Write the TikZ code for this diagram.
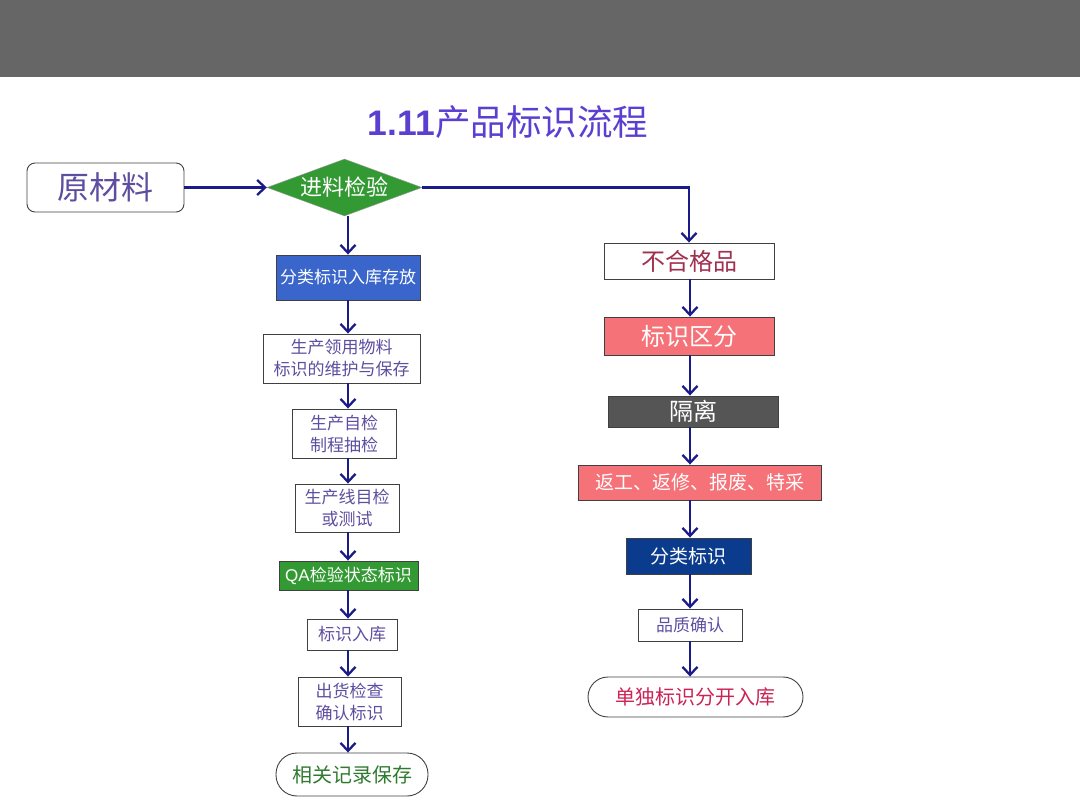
\documentclass[tikz,border=0pt]{standalone}
\usepackage{fontspec}
\newfontfamily\cjk{Noto Sans CJK SC}
\newfontfamily\lat{Liberation Sans}
\usetikzlibrary{arrows.meta,shapes.geometric}
\definecolor{gris}{HTML}{666666}
\definecolor{titulo}{HTML}{5B3FD0}
\definecolor{morado}{HTML}{5E4EA0}
\definecolor{verde}{HTML}{339933}
\definecolor{azul}{HTML}{3A66CC}
\definecolor{marino}{HTML}{0B3B8C}
\definecolor{rosa}{HTML}{F47278}
\definecolor{oscuro}{HTML}{555555}
\definecolor{flecha}{HTML}{1A1A88}
\definecolor{rojo}{HTML}{A03050}
\definecolor{carmin}{HTML}{CC2255}
\definecolor{verdet}{HTML}{2F7A2F}

\begin{document}
\begin{tikzpicture}[x=1pt,y=-1pt,
  caja/.style={draw=black!75, line width=0.9pt, inner sep=0pt, align=center, font=\cjk},
  fs/.style 2 args={font=\cjk\fontsize{#1}{#2}\selectfont},
  flujo/.style={draw=flecha, line width=2.3pt, -{Straight Barb[length=8pt,width=15pt,line width=2.3pt]}}]
\useasboundingbox (0,0) rectangle (1080,810);
\fill[gris] (0,0) rectangle (1080,77);	% banda
\node (tit) at (508,122) {\cjk\fontsize{35.5}{40}\selectfont\color{titulo}{\lat\bfseries 1.11}产品标识流程};

\coordinate (ejeA) at (348,0);
\coordinate (ejeB) at (690,0);

% izquierda
\node[caja, rounded corners=8pt, minimum width=157pt, minimum height=49pt, text=morado, fs={32}{38}] (rm) at (105.5,187.5) {原材料};
\node[diamond, fill=verde, draw=black!40, inner sep=0pt, aspect=2.72, minimum width=155pt, minimum height=57pt, text=white, fs={22}{26}] (jy) at (344.5,187.5) {进料检验};
\node[caja, fill=azul, minimum width=144pt, minimum height=45pt, text=white, fs={17}{22}] (fc) at (348,277.5) {分类标识入库存放};
\node[caja, minimum width=157pt, minimum height=49pt, text=morado, fs={17}{22}] (ly) at (341.5,358.5) {生产领用物料\\标识的维护与保存};
\node[caja, minimum width=104pt, minimum height=49pt, text=morado, fs={17}{22}] (zj) at (344,433.5) {生产自检\\制程抽检};
\node[caja, minimum width=104pt, minimum height=48pt, text=morado, fs={17}{22}] (mj) at (347,508) {生产线目检\\或测试};
\node[caja, fill=verde, minimum width=139pt, minimum height=29pt, text=white, fs={17}{22}] (qa) at (348.5,575.5) {{\lat QA}检验状态标识};
\node[caja, minimum width=90pt, minimum height=31pt, text=morado, fs={17}{22}] (rk) at (352,634.5) {标识入库};
\node[caja, minimum width=103pt, minimum height=49pt, text=morado, fs={17}{22}] (ch) at (349.5,701.5) {出货检查\\确认标识};
\node[caja, rounded corners=21pt, minimum width=152pt, minimum height=43pt, text=verdet, fs={20}{24}] (jl) at (352,774.5) {相关记录保存};

% derecha
\node[caja, minimum width=170pt, minimum height=36pt, text=rojo, fs={24}{28}] (bh) at (689,261) {不合格品};
\node[caja, fill=rosa, minimum width=170pt, minimum height=38pt, text=white, fs={24}{28}] (qf) at (689,336) {标识区分};
\node[caja, fill=oscuro, minimum width=170pt, minimum height=31pt, text=white, fs={24}{28}] (gl) at (693,411.5) {隔离};
\node[caja, fill=rosa, minimum width=243pt, minimum height=35pt, text=white, fs={19}{23}] (fg) at (699.5,482.5) {返工、返修、报废、特采};
\node[caja, fill=marino, minimum width=125pt, minimum height=36pt, text=white, fs={19}{23}] (fl) at (688.5,556) {分类标识};
\node[caja, minimum width=104pt, minimum height=32pt, text=morado, fs={17}{22}] (pz) at (690,625) {品质确认};
\node[caja, rounded corners=20pt, minimum width=215pt, minimum height=40pt, text=carmin, fs={20}{24}] (dd) at (695.5,697) {单独标识分开入库};

\draw[flujo] (rm.east) -- (jy.west);
\draw[flujo] (jy.east) -| (bh.north);
\foreach \a/\b in {jy/fc,fc/ly,ly/zj,zj/mj,mj/qa,qa/rk,rk/ch,ch/jl}
  \draw[flujo] (\a.south -| ejeA) -- (\b.north -| ejeA);
\foreach \a/\b in {bh/qf,qf/gl,gl/fg,fg/fl,fl/pz,pz/dd}
  \draw[flujo] (\a.south -| ejeB) -- (\b.north -| ejeB);
\end{tikzpicture}
\end{document}
